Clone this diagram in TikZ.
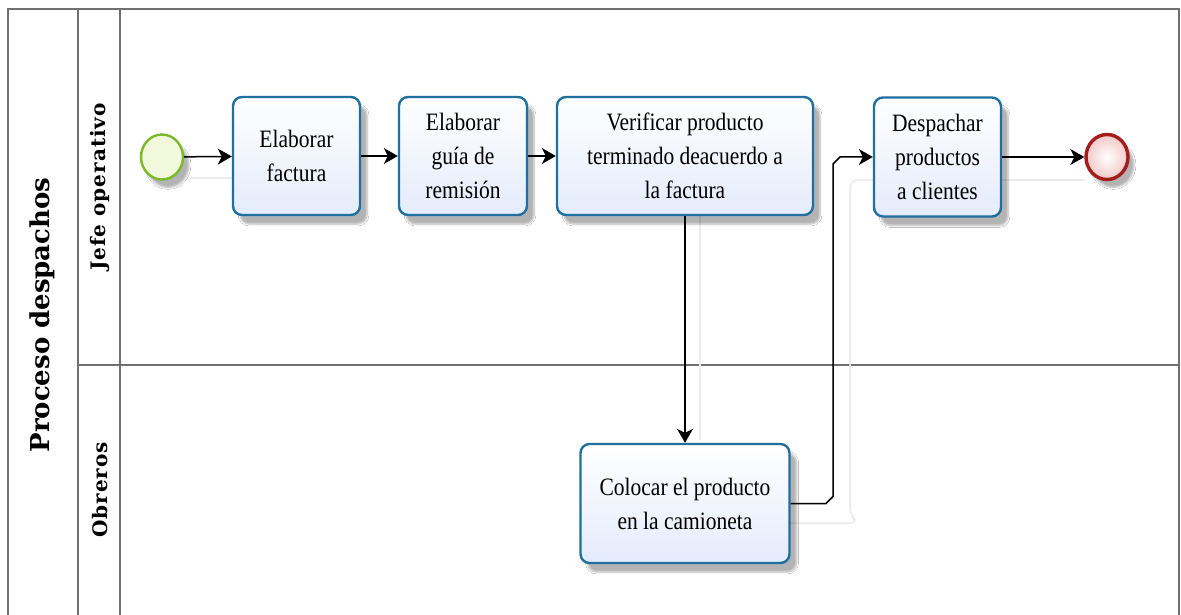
\documentclass[tikz,border=0pt]{standalone}
\usepackage{fontspec}
\setmainfont{Liberation Serif}
\newfontfamily\taskfont[FakeStretch=0.86]{Liberation Serif}
\newfontfamily\poolfont{DejaVu Serif}
\newfontfamily\lanefont[LetterSpace=5]{DejaVu Serif}
\usetikzlibrary{arrows.meta,shadows.blur,shapes.geometric}

\definecolor{poolline}{HTML}{707070}
\definecolor{taskborder}{HTML}{1F6FA0}
\definecolor{taskfill}{HTML}{E4EBFB}
\definecolor{startborder}{HTML}{7AB929}
\definecolor{startfill}{HTML}{F1F8DC}
\definecolor{endborder}{HTML}{A31D1D}
\definecolor{endfill}{HTML}{F2C8C8}

\tikzset{
  poolrule/.style={draw=poolline, line width=1.5pt},
  task/.style={draw=taskborder, line width=2.4pt, rounded corners=9pt,
    top color=white, bottom color=taskfill, align=center,
    inner sep=0pt, font=\taskfont\fontsize{25}{34}\selectfont,
    blur shadow={shadow xshift=7pt, shadow yshift=-9pt, shadow blur steps=6, shadow opacity=30}},
  startev/.style={ellipse, draw=startborder, line width=2.4pt, fill=startfill,
    minimum width=42pt, minimum height=45pt, inner sep=0pt,
    blur shadow={shadow xshift=6pt, shadow yshift=-8pt, shadow blur steps=6, shadow opacity=30}},
  endev/.style={ellipse, draw=endborder, line width=3.4pt, inner color=white, outer color=endfill,
    minimum width=42pt, minimum height=45pt, inner sep=0pt,
    blur shadow={shadow xshift=6pt, shadow yshift=-8pt, shadow blur steps=6, shadow opacity=30}},
  flow/.style={draw=black, line width=1.5pt, -{Stealth[length=14pt,width=16pt,inset=4pt]}},
  ghost/.style={draw=black!8, line width=1.5pt},
  lanelabel/.style={rotate=90, font=\lanefont\bfseries\fontsize{20}{24}\selectfont}
}

\begin{document}
\begin{tikzpicture}[x=1pt,y=-1pt]
\useasboundingbox (0,0) rectangle (1181,615);
\fill[white] (0,0) rectangle (1181,615);

% pool and lanes
\draw[poolrule] (8,616) -- (8,9) -- (1179,9) -- (1179,616);
\draw[poolrule] (78,9) -- (78,616);
\draw[poolrule] (120,9) -- (120,616);
\draw[poolrule] (78,365) -- (1179,365);

\node[rotate=90, font=\poolfont\bfseries\fontsize{26}{30}\selectfont] (pool) at (42,315) {Proceso despachos};
\node[lanelabel] (lane1) at (100,187) {Jefe operativo};
\node[lanelabel] (lane2) at (100,490) {Obreros};

% faint connector shadows
\draw[ghost] (190,178) -- (233,178);
\draw[ghost] (1001,180) -- (1085,180);
\draw[ghost] (700,215) -- (700,440);
\draw[ghost, rounded corners=8pt] (790,523) -- (858,523) -- (850,515) -- (850,180) -- (874,180);

% events and tasks
\node[startev] (start) at (162,157) {};
\node[task, minimum width=127pt, minimum height=118pt] (factura) at (296.5,156) {Elaborar\\factura};
\node[task, minimum width=128pt, minimum height=118pt] (guia) at (463,156) {Elaborar\\guía de\\remisión};
\node[task, minimum width=256pt, minimum height=118pt] (verif) at (685,156) {Verificar producto\\terminado deacuerdo a\\la factura};
\node[task, minimum width=127pt, minimum height=119pt] (desp) at (937.5,157) {Despachar\\productos\\a clientes};
\node[task, minimum width=209pt, minimum height=119pt] (coloc) at (685,503.5) {Colocar el producto\\en la camioneta};
\node[endev] (fin) at (1107,157) {};

% bend points of the return flow
\coordinate (r1) at (826,503.5);
\coordinate (r2) at (833,496.5);
\coordinate (r3) at (833,164);
\coordinate (r4) at (840,157);

% sequence flows
\draw[flow] (start) -- (factura);
\draw[flow] (factura) -- (guia);
\draw[flow] (guia) -- (verif);
\draw[flow] (verif) -- (coloc);
\draw[flow] (coloc.east) -- (r1) -- (r2) -- (r3) -- (r4) -- (desp.west);
\draw[flow] (desp) -- (fin);
\end{tikzpicture}
\end{document}
